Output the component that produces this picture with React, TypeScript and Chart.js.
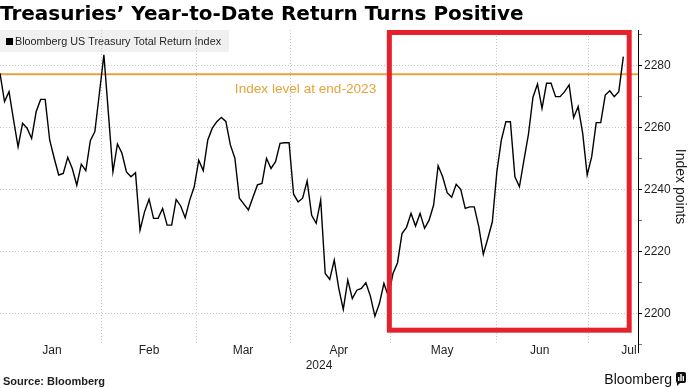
import { useEffect, useRef } from 'react';
import { Chart, registerables } from 'chart.js';

Chart.register(...registerables);

// ---------- data ----------
const TITLE = 'Treasuries’ Year-to-Date Return Turns Positive';
const SERIES_NAME = 'Bloomberg US Treasury Total Return Index';
const INDEX_LEVELS = [
  2277.5, 2268.4, 2271.6, 2262.5, 2253.8, 2261.4, 2259.8, 2256.5, 2265.1, 2269.1,
  2269.1, 2256.0, 2250.1, 2244.7, 2245.2, 2250.4, 2246.8, 2241.4, 2248.2, 2246.1,
  2255.8, 2258.7, 2271.0, 2283.5, 2264.6, 2245.7, 2254.7, 2251.7, 2245.7, 2244.1,
  2245.4, 2226.9, 2232.8, 2236.9, 2230.7, 2230.7, 2233.9, 2228.5, 2228.5, 2236.8,
  2234.7, 2230.9, 2236.6, 2240.9, 2249.5, 2246.1, 2256.0, 2259.8, 2261.9, 2263.3,
  2262.0, 2254.4, 2250.1, 2237.2, 2235.3, 2233.4, 2237.5, 2241.5, 2242.0, 2250.1,
  2246.8, 2249.0, 2254.9, 2255.1, 2255.1, 2238.5, 2236.0, 2237.2, 2242.8, 2231.7,
  2229.1, 2236.6, 2212.9, 2211.0, 2217.2, 2208.1, 2201.3, 2210.8, 2204.8, 2207.5,
  2208.1, 2209.9, 2205.6, 2199.1, 2203.2, 2209.7, 2205.5, 2212.9, 2216.3, 2225.8,
  2227.8, 2232.3, 2228.2, 2232.3, 2227.5, 2230.1, 2235.0, 2247.7, 2244.1, 2239.0,
  2237.5, 2241.7, 2240.1, 2233.9, 2234.4, 2234.4, 2228.0, 2219.1, 2224.2, 2229.6,
  2245.7, 2256.0, 2261.9, 2261.9, 2244.1, 2240.9, 2249.5, 2257.9, 2269.8, 2274.1,
  2266.2, 2274.3, 2274.3, 2270.0, 2270.0, 2271.6, 2273.8, 2263.2, 2266.8, 2258.2,
  2244.7, 2250.6, 2261.6, 2261.6, 2270.5, 2271.9, 2270.0, 2271.6, 2282.9,
];
const END_2023_LEVEL = 2277.2;
const END_2023_TEXT = 'Index level at end-2023';
const END_2023_TEXT_AT = [52, 2272.5];
const MONTHS = ['Jan', 'Feb', 'Mar', 'Apr', 'May', 'Jun', 'Jul'];
const MONTH_LABEL_AT = [11.5, 33, 53.8, 75, 97.9, 119.5, 139.25];
const MONTH_STARTS = [22.4, 43.4, 64.4, 86.4, 110, 130.4];
const YEAR_LABEL = '2024';
const Y_LABELS = [2200, 2220, 2240, 2260, 2280];
const Y_MINOR = [2190, 2210, 2230, 2250, 2270, 2290];
const Y_TITLE = 'Index points';
const SOURCE = 'Source: Bloomberg';
const BRAND = 'Bloomberg';
const X_RANGE = [0, 141.25];
const Y_RANGE = [2190.4, 2291.5];
const HIGHLIGHT_X = [86.2, 139.3];
const HIGHLIGHT_Y = [2194.6, 2290.7];

// ---------- styles ----------
const FONT = '"Liberation Sans", Arial, sans-serif';
const TITLE_FONT = '"DejaVu Sans", Verdana, sans-serif';
const ORANGE = '#e6a23c';
const RED = '#e5212b';
const GRID = '#c4c4c4';
const TEXT = '#1e1e1e';

const overlayPlugin = {
  id: 'overlay',
  beforeDraw(chart: any) {
    const { ctx, chartArea } = chart;
    ctx.save();
    // legend box (behind grid)
    ctx.fillStyle = '#f0f0f0';
    ctx.fillRect(0, chartArea.top, 229, 22);
    ctx.fillStyle = '#000';
    ctx.fillRect(6, chartArea.top + 8, 7, 7);
    ctx.font = `10.8px ${FONT}`;
    ctx.fillStyle = TEXT;
    ctx.textBaseline = 'alphabetic';
    ctx.textAlign = 'left';
    ctx.fillText(SERIES_NAME, 15, chartArea.top + 15);
    ctx.restore();
  },
  afterDatasetsDraw(chart: any) {
    const { ctx } = chart;
    const xs = chart.scales.x;
    const ys = chart.scales.y;
    ctx.save();
    ctx.font = `13.6px ${FONT}`;
    ctx.fillStyle = ORANGE;
    ctx.textAlign = 'left';
    ctx.textBaseline = 'middle';
    ctx.fillText(END_2023_TEXT, xs.getPixelForValue(END_2023_TEXT_AT[0]), ys.getPixelForValue(END_2023_TEXT_AT[1]));
    ctx.restore();
  },
  afterDraw(chart: any) {
    const { ctx, chartArea, width, height } = chart;
    const xs = chart.scales.x;
    const ys = chart.scales.y;
    ctx.save();
    // right axis line
    ctx.strokeStyle = '#000';
    ctx.lineWidth = 1;
    ctx.beginPath();
    ctx.moveTo(Math.round(chartArea.right) + 0.5, chartArea.top);
    ctx.lineTo(Math.round(chartArea.right) + 0.5, chartArea.bottom + 10);
    ctx.stroke();
    // highlight box
    const l = xs.getPixelForValue(HIGHLIGHT_X[0]);
    const r = xs.getPixelForValue(HIGHLIGHT_X[1]);
    const t = ys.getPixelForValue(HIGHLIGHT_Y[1]);
    const b = ys.getPixelForValue(HIGHLIGHT_Y[0]);
    ctx.strokeStyle = RED;
    ctx.lineWidth = 5;
    ctx.strokeRect(l, t, r - l, b - t);
    // source
    ctx.fillStyle = TEXT;
    ctx.font = `bold 11px ${FONT}`;
    ctx.textAlign = 'left';
    ctx.textBaseline = 'alphabetic';
    ctx.fillText(SOURCE, 3, height - 3);
    // brand
    ctx.font = `14px ${FONT}`;
    ctx.textAlign = 'right';
    ctx.fillStyle = '#111';
    ctx.fillText(BRAND, width - 18, height - 4);
    // brand icon
    const ix = width - 14;
    const iy = height - 16;
    ctx.fillStyle = '#111';
    ctx.beginPath();
    ctx.roundRect(ix, iy, 10, 11, 2);
    ctx.fill();
    ctx.beginPath();
    ctx.moveTo(ix + 1, iy + 10);
    ctx.lineTo(ix + 1, iy + 14);
    ctx.lineTo(ix + 5, iy + 10);
    ctx.fill();
    ctx.fillStyle = '#fff';
    ctx.fillRect(ix + 2, iy + 5, 1.4, 4);
    ctx.fillRect(ix + 4.3, iy + 2, 1.4, 7);
    ctx.fillRect(ix + 6.6, iy + 4, 1.4, 5);
    ctx.restore();
  },
};

export default function App() {
  const ref = useRef<HTMLCanvasElement>(null);
  useEffect(() => {
    const chart = new Chart(ref.current as HTMLCanvasElement, {
      type: 'line',
      data: {
        datasets: [
          {
            label: SERIES_NAME,
            data: INDEX_LEVELS.map((v, i) => ({ x: i, y: v })),
            borderColor: '#000',
            borderWidth: 1.4,
            pointRadius: 0,
            tension: 0,
            xAxisID: 'x',
            yAxisID: 'y',
          },
          {
            label: END_2023_TEXT,
            data: [
              { x: X_RANGE[0], y: END_2023_LEVEL },
              { x: X_RANGE[1], y: END_2023_LEVEL },
            ],
            borderColor: ORANGE,
            borderWidth: 2,
            pointRadius: 0,
            xAxisID: 'x',
            yAxisID: 'y',
          },
        ],
      },
      options: {
        responsive: false,
        animation: false,
        devicePixelRatio: 1,
        layout: { padding: { top: 0, left: 0, right: 0, bottom: 15 } },
        plugins: {
          legend: { display: false },
          tooltip: { enabled: false },
          title: {
            display: true,
            text: TITLE,
            align: 'start',
            color: '#000',
            font: { family: TITLE_FONT, size: 20, weight: 'bold', lineHeight: 1.2 },
            padding: { top: 3, bottom: 3 },
          },
        },
        scales: {
          x: {
            type: 'linear',
            position: 'bottom',
            min: X_RANGE[0],
            max: X_RANGE[1],
            afterBuildTicks: (s: any) => {
              s.ticks = MONTH_LABEL_AT.map((v) => ({ value: v }));
            },
            grid: { display: false, drawTicks: false },
            border: { display: false },
            ticks: {
              autoSkip: false,
              maxRotation: 0,
              padding: 0,
              color: TEXT,
              font: { family: FONT, size: 12 },
              callback: (_v: any, i: number) => MONTHS[i] ?? '',
            },
            title: {
              display: true,
              text: YEAR_LABEL,
              color: TEXT,
              font: { family: FONT, size: 12 },
              padding: { top: 1, bottom: 0 },
            },
          },
          xMonths: {
            type: 'linear',
            position: 'bottom',
            min: X_RANGE[0],
            max: X_RANGE[1],
            afterBuildTicks: (s: any) => {
              s.ticks = MONTH_STARTS.map((v) => ({ value: v }));
            },
            grid: { color: GRID, drawTicks: false, lineWidth: 1 },
            border: { display: false, dash: [1, 2] },
            ticks: { display: false },
          },
          y: {
            type: 'linear',
            position: 'right',
            min: Y_RANGE[0],
            max: Y_RANGE[1],
            afterBuildTicks: (s: any) => {
              s.ticks = [...Y_MINOR, ...Y_LABELS].sort((a, b) => a - b).map((v) => ({ value: v }));
            },
            afterFit: (s: any) => {
              s.width = 52;
            },
            grid: {
              color: (c: any) => (c.tick && Y_LABELS.includes(c.tick.value) ? GRID : 'rgba(0,0,0,0)'),
              tickColor: (c: any) => (c.tick && Y_LABELS.includes(c.tick.value) ? '#000' : '#777'),
              tickLength: 4,
              drawTicks: true,
              lineWidth: 1,
            },
            border: { display: false, dash: [1, 2] },
            ticks: {
              padding: 2,
              color: TEXT,
              font: { family: FONT, size: 12 },
              callback: (v: any) => (Y_LABELS.includes(v) ? String(v) : ''),
            },
            title: {
              display: true,
              text: Y_TITLE,
              color: TEXT,
              font: { family: FONT, size: 14 },
              padding: { top: 2, bottom: 0 },
            },
          },
        },
      },
      plugins: [overlayPlugin],
    } as any);
    return () => chart.destroy();
  }, []);

  return (
    <div style={{ position: 'fixed', left: 0, top: 0, width: 690, height: 388, background: '#fff' }}>
      <canvas ref={ref} width={690} height={388} style={{ display: 'block', width: 690, height: 388 }} />
    </div>
  );
}
